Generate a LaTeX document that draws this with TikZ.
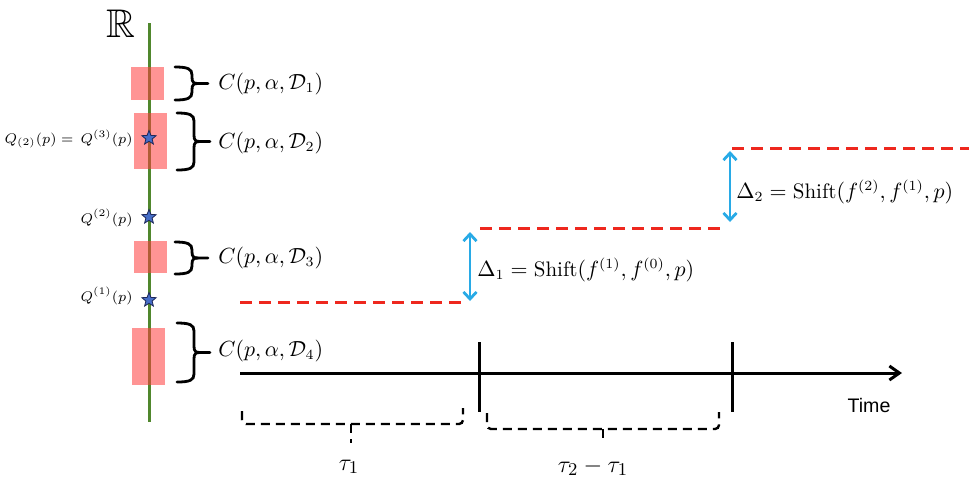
\documentclass[tikz,border=0pt]{standalone}
\usepackage{amssymb}
\usepackage{fontspec}
\newfontfamily\timefont{Liberation Sans}
\usetikzlibrary{shapes.geometric,arrows.meta}
\definecolor{realgreen}{RGB}{80,135,45}
\definecolor{confred}{RGB}{255,60,60}
\definecolor{stepred}{RGB}{238,40,30}
\definecolor{arrblue}{RGB}{40,170,230}
\definecolor{starblue}{RGB}{70,110,200}
\definecolor{starline}{RGB}{30,40,90}
\begin{document}
\begin{tikzpicture}[x=0.5pt,y=-0.5pt,
  realline/.style={draw=realgreen, line width=1.5pt},
  confbox/.style={fill=confred, fill opacity=0.55, inner sep=0pt, minimum width=16.5pt},
  qstar/.style={star, star points=5, star point ratio=2.3, fill=starblue, draw=starline, line width=0.4pt, inner sep=0pt, minimum size=7.5pt},
  clabel/.style={anchor=west, inner sep=0pt, font=\fontsize{10.5}{12}\selectfont},
  dlabel/.style={anchor=west, inner sep=0pt, font=\fontsize{10.5}{12}\selectfont},
  qlabel/.style={anchor=east, inner sep=0pt, font=\fontsize{6.9}{8}\selectfont},
  taulabel/.style={inner sep=0pt, font=\fontsize{12.3}{14}\selectfont},
  bracestyle/.style={line width=1.4pt, line cap=round},
  stepline/.style={draw=stepred, line width=1.5pt, dash pattern=on 6pt off 3.5pt},
  shiftarrow/.style={draw=arrblue, line width=1.4pt, {Straight Barb[length=3.5pt,width=6.5pt]}-{Straight Barb[length=3.5pt,width=6.5pt]}},
  timeaxis/.style={line width=1.5pt, -{Straight Barb[length=5pt,width=7pt]}},
  tickline/.style={line width=1.5pt},
  dbrace/.style={line width=1.2pt, dash pattern=on 4.5pt off 3pt, rounded corners=2pt},
  pics/rbrace/.style={code={
    \draw[bracestyle] (0,0) .. controls (13,0) and (17,2) .. (17,8) -- (17,{#1/2-6})
      .. controls (17,{#1/2-1}) and (19,{#1/2}) .. (23,{#1/2}) -- (33,{#1/2});
    \draw[bracestyle] (23,{#1/2}) .. controls (19,{#1/2}) and (17,{#1/2+1}) .. (17,{#1/2+6})
      -- (17,{#1-8}) .. controls (17,{#1-2}) and (13,#1) .. (0,#1);
  }},
]
\useasboundingbox (0,0) rectangle (969,479);

% real line
\node[inner sep=0pt, font=\fontsize{20}{24}\selectfont] (R) at (121,24) {$\mathbb{R}$};
\coordinate (rtop) at (149,23);
\coordinate (rbot) at (149,422);
\draw[realline] (rtop) -- (rbot);

% confidence sets
\node[confbox, minimum height=16.5pt] (d1) at (147.5,83.5) {};
\node[confbox, minimum height=28pt] (d2) at (150,141) {};
\node[confbox, minimum height=16pt] (d3) at (150.5,257) {};
\node[confbox, minimum height=28.5pt] (d4) at (148.5,356.5) {};

% quantile stars
\node[qstar] (q3) at (149,138) {};
\node[qstar] (q2) at (149,217) {};
\node[qstar] (q1) at (149,300) {};
\node[qlabel] (lq3) at (133,139) {$Q_{(2)}(p) =\, Q^{(3)}(p)$};
\node[qlabel] (lq2) at (133,218) {$Q^{(2)}(p)$};
\node[qlabel] (lq1) at (133,296) {$Q^{(1)}(p)$};

% braces and labels
\pic at (175,67) {rbrace=33};
\pic at (177,113) {rbrace=57};
\pic at (175,242) {rbrace=32};
\pic at (177,323) {rbrace=59};
\node[clabel] (c1) at (218,84) {$C(p,\alpha,\mathcal{D}_1)$};
\node[clabel] (c2) at (218,143) {$C(p,\alpha,\mathcal{D}_2)$};
\node[clabel] (c3) at (218,258) {$C(p,\alpha,\mathcal{D}_3)$};
\node[clabel] (c4) at (218,351) {$C(p,\alpha,\mathcal{D}_4)$};

% step function
\coordinate (s0a) at (240,302);
\coordinate (s0b) at (463,302);
\coordinate (s1a) at (480,228);
\coordinate (s1b) at (720,228);
\coordinate (s2a) at (732,148);
\coordinate (s2b) at (969,148);
\draw[stepline] (s0a) -- (s0b);
\draw[stepline] (s1a) -- (s1b);
\draw[stepline] (s2a) -- (s2b);

% shift arrows
\coordinate (a1b) at (470,301);
\coordinate (a1t) at (470,232);
\coordinate (a2b) at (730,222);
\coordinate (a2t) at (730,151);
\draw[shiftarrow] (a1b) -- (a1t);
\draw[shiftarrow] (a2b) -- (a2t);
\node[dlabel] (l1) at (477,270) {$\Delta_1 = \mathrm{Shift}(f^{(1)}, f^{(0)}, p)$};
\node[dlabel] (l2) at (736,192) {$\Delta_2 = \mathrm{Shift}(f^{(2)}, f^{(1)}, p)$};

% time axis
\coordinate (ta) at (240,373);
\coordinate (tb) at (902,373);
\draw[timeaxis] (ta) -- (tb);
\coordinate (k1t) at (479,342);
\coordinate (k1b) at (479,412);
\coordinate (k2t) at (732,342);
\coordinate (k2b) at (732,412);
\draw[tickline] (k1t) -- (k1b);
\draw[tickline] (k2t) -- (k2b);
\node[inner sep=0pt, font=\timefont\fontsize{9.8}{11}\selectfont] (time) at (869,405) {Time};

% interval braces
\draw[dbrace] (242,411) -- (242,424) -- (463,424) -- (463,408);
\coordinate (b1m) at (351,424);
\coordinate (b1t) at (351,443);
\draw[dbrace] (b1m) -- (b1t);
\draw[dbrace] (487,413) -- (487,429) -- (719,429) -- (719,412);
\coordinate (b2m) at (603,429);
\coordinate (b2t) at (603,444);
\draw[dbrace] (b2m) -- (b2t);
\node[taulabel] (tau1) at (349,467) {$\tau_1$};
\node[taulabel] (tau2) at (593,467) {$\tau_2 - \tau_1$};
\end{tikzpicture}
\end{document}
